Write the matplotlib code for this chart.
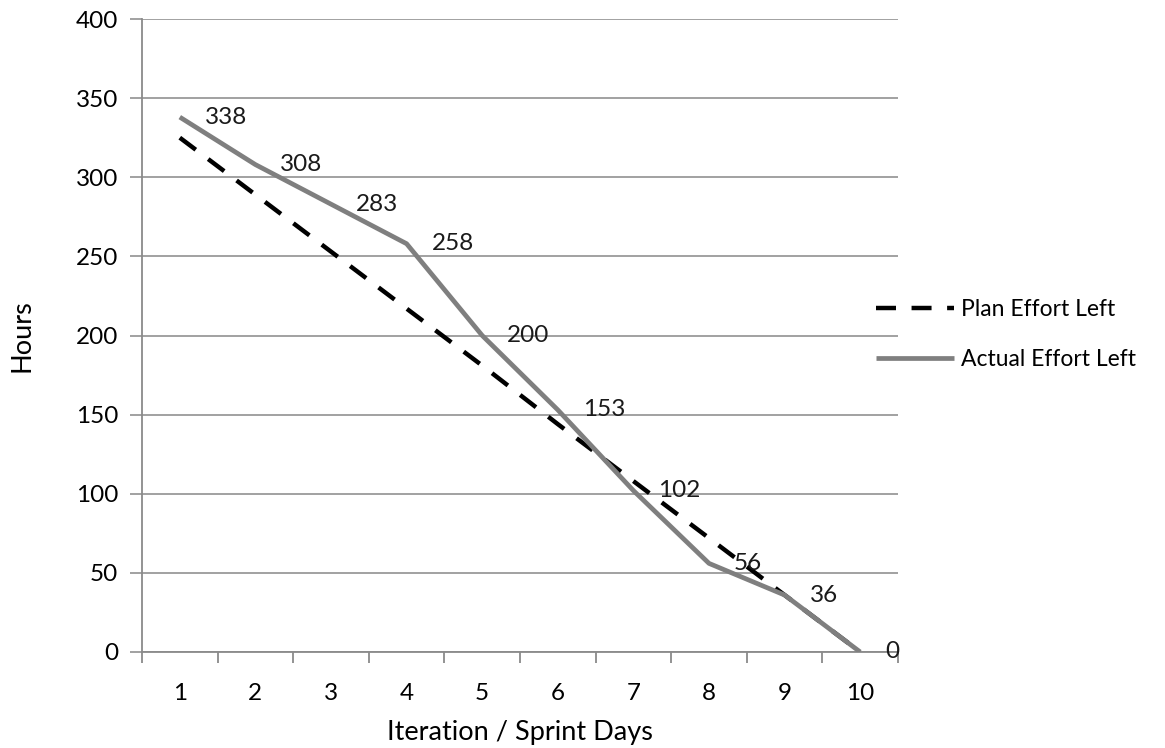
import matplotlib
matplotlib.use("Agg")
import matplotlib.pyplot as plt

plt.rcParams['font.family'] = ['Lato', 'DejaVu Sans']

days = ['1', '2', '3', '4', '5', '6', '7', '8', '9', '10']
plan_effort = [325, 289, 253, 217, 181, 144, 108, 72, 36, 0]
actual_effort = [338, 308, 283, 258, 200, 153, 102, 56, 36, 0]

fig = plt.figure(figsize=(11.65, 7.48), dpi=100)
ax = fig.add_axes([142/1165, 1-652/748, (898-142)/1165, (652-19)/748])

x = list(range(1, len(days) + 1))
ax.plot(x, plan_effort, color='black', lw=3.2, dashes=(4.5, 3.5), label='Plan Effort Left', zorder=3)
ax.plot(x, actual_effort, color='#7f7f7f', lw=3.4, label='Actual Effort Left', zorder=4,
        solid_capstyle='butt')

for xi, v in zip(x, actual_effort):
    ax.annotate(str(v), (xi, v), xytext=(18, 0), textcoords='offset points',
                ha='left', va='center', fontsize=17.5, color='#1a1a1a', zorder=5)

ax.set_xlim(0.5, 10.5)
ax.set_ylim(0, 400)
ax.set_yticks(range(0, 401, 50))
ax.yaxis.grid(True, color='#9a9a9a', lw=1.3)
ax.set_axisbelow(True)

ax.set_xticks([i + 0.5 for i in range(0, 11)])
ax.set_xticklabels([])
ax.set_xticks(x, minor=True)
ax.set_xticklabels(days, minor=True)
ax.tick_params(axis='x', which='major', length=8, width=1.3, color='#8a8a8a', direction='out')
ax.tick_params(axis='x', which='minor', length=0, pad=22, labelsize=17.5)
ax.tick_params(axis='y', length=9, width=1.3, color='#9a9a9a', labelsize=17.5, pad=8)

for s in ['top', 'right']:
    ax.spines[s].set_visible(False)
ax.spines['left'].set_color('#8a8a8a')
ax.spines['left'].set_linewidth(1.3)
ax.spines['bottom'].set_color('#8a8a8a')
ax.spines['bottom'].set_linewidth(1.3)

ax.set_xlabel('Iteration / Sprint Days', fontsize=19.5, labelpad=12)
ax.set_ylabel('Hours', fontsize=19.5, labelpad=30)

leg = ax.legend(loc='center left', bbox_to_anchor=(876/1165, 1-334.5/748),
                bbox_transform=fig.transFigure, frameon=False, fontsize=16.5,
                handlelength=3.4, labelspacing=1.3, handletextpad=0.3,
                borderaxespad=0, borderpad=0)

fig.savefig('out.png', dpi=100)
